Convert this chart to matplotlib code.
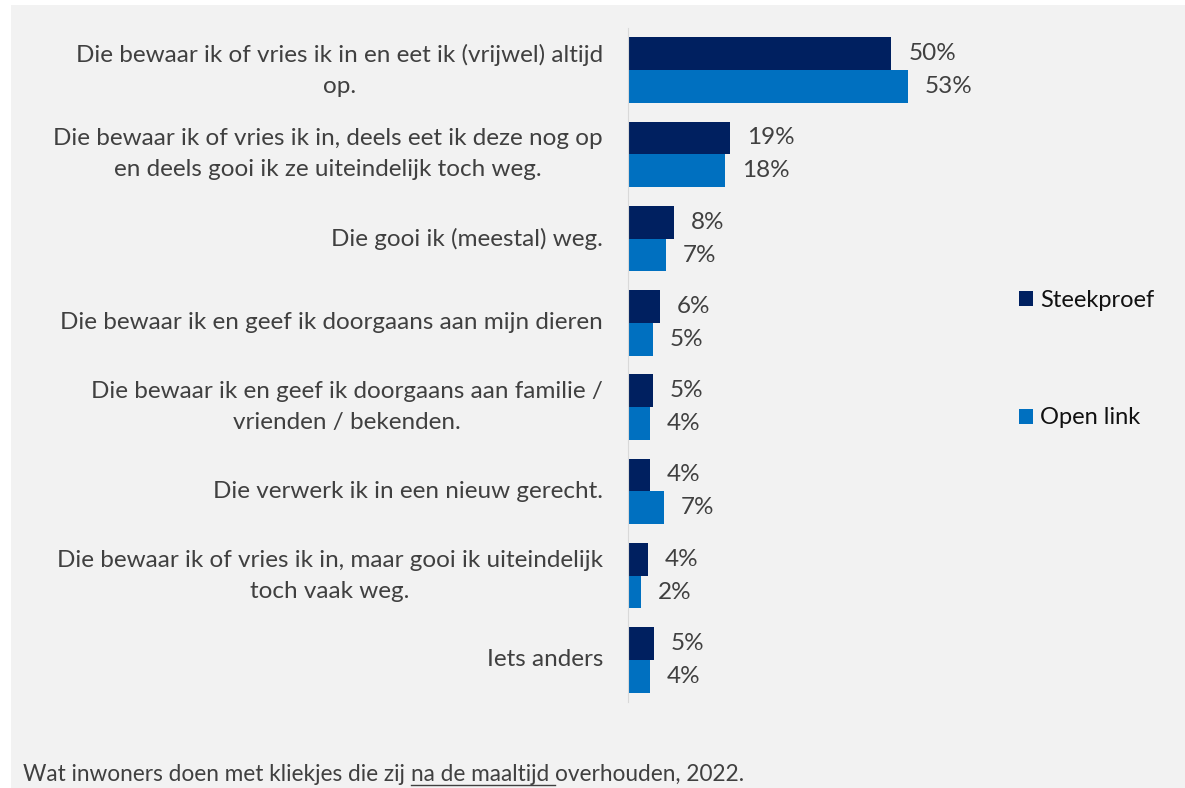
import numpy as np
from matplotlib import pyplot as plt
import matplotlib.patches as mpatches

# Leftover meals ("kliekjes") survey, 2022
categories = [
    'Die bewaar ik of vries ik in en eet ik (vrijwel) altijd\nop.',
    'Die bewaar ik of vries ik in, deels eet ik deze nog op\nen deels gooi ik ze uiteindelijk toch weg.',
    'Die gooi ik (meestal) weg.',
    'Die bewaar ik en geef ik doorgaans aan mijn dieren',
    'Die bewaar ik en geef ik doorgaans aan familie /\nvrienden / bekenden.',
    'Die verwerk ik in een nieuw gerecht.',
    'Die bewaar ik of vries ik in, maar gooi ik uiteindelijk\ntoch vaak weg.',
    'Iets anders',
]
steekproef = [49.9, 19.3, 8.7, 6.1, 4.7, 4.2, 3.8, 4.9]
open_link = [53.0, 18.4, 7.2, 4.7, 4.2, 6.8, 2.5, 4.2]
steekproef_labels = ['50%', '19%', '8%', '6%', '5%', '4%', '4%', '5%']
open_link_labels = ['53%', '18%', '7%', '5%', '4%', '7%', '2%', '4%']

DARK = '#002060'
LIGHT = '#0070C0'
BG = '#F2F2F2'
FONT = 'Lato'
FS = 17.5

fig = plt.figure(figsize=(11.85, 7.88), dpi=100)
fig.patch.set_facecolor('white')
fig.patches.append(mpatches.Rectangle((11 / 1185, 0), 1, 1 - 5 / 788,
                                      transform=fig.transFigure,
                                      facecolor=BG, edgecolor='none', zorder=-1))

ax = fig.add_axes([628 / 1185, 1 - 702 / 788, 372 / 1185, 674 / 788])
ax.set_facecolor('none')

y = np.arange(len(categories))
h = 0.39
ax.barh(y - h / 2, steekproef, height=h, color=DARK, label='Steekproef')
ax.barh(y + h / 2, open_link, height=h, color=LIGHT, label='Open link')

for i in range(len(categories)):
    ax.text(steekproef[i] + 3.2, y[i] - h / 2, steekproef_labels[i],
            va='center', ha='left', fontsize=FS, color='#404040', family=FONT)
    ax.text(open_link[i] + 3.2, y[i] + h / 2, open_link_labels[i],
            va='center', ha='left', fontsize=FS, color='#404040', family=FONT)

ax.set_xlim(0, 372 / 5.28)
ax.set_ylim(len(categories) - 0.5, -0.5)
ax.set_yticks(y)
ax.set_yticklabels(categories, fontsize=FS, color='#404040', family=FONT,
                   multialignment='center', linespacing=1.6, va='center')
ax.tick_params(axis='y', length=0, pad=18)
ax.set_xticks([])
for side in ['top', 'right', 'bottom']:
    ax.spines[side].set_visible(False)
ax.spines['left'].set_color('#D9D9D9')

ax.legend(loc='center left', bbox_to_anchor=(998 / 1185, 1 - 359 / 788),
          bbox_transform=fig.transFigure, frameon=False,
          prop={'family': FONT, 'size': 17}, handlelength=0.6, handleheight=0.6,
          handletextpad=0.3, labelspacing=4.1, labelcolor='#111111')

# caption with underlined part
parts = ['Wat inwoners doen met kliekjes die zij ', 'na de maaltijd ',
         'overhouden, 2022.']
fig.canvas.draw()
renderer = fig.canvas.get_renderer()
x = 23 / 1185
for k, p in enumerate(parts):
    t = fig.text(x, 1 - 781 / 788, p, fontsize=16.3, color='#404040',
                 family=FONT, ha='left', va='baseline')
    bb = t.get_window_extent(renderer)
    w = bb.width / fig.bbox.width
    if k == 1:
        fig.add_artist(plt.Line2D([x, x + w], [1 - 785 / 788] * 2,
                                  transform=fig.transFigure,
                                  color='#404040', lw=1))
    x += w

fig.savefig('out.png', dpi=100, facecolor=fig.get_facecolor())
